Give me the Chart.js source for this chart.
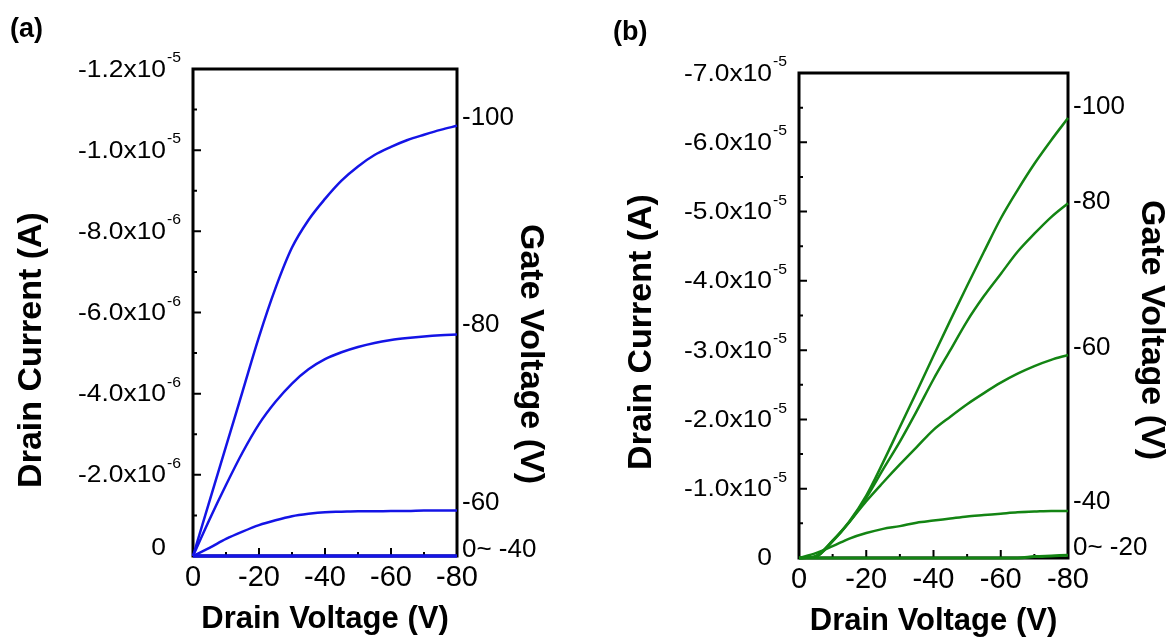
<!DOCTYPE html>
<html>
<head>
<meta charset="utf-8">
<script src="https://cdn.jsdelivr.net/npm/chart.js@4.4.0/dist/chart.umd.min.js"></script>
<style>
  html, body { margin: 0; padding: 0; background: #fff; }
  #wrap { position: relative; width: 1174px; height: 641px; }
  canvas { position: absolute; top: 0; }
  #chartA { left: 0; }
  #chartB { left: 587px; }
</style>
</head>
<body>
<div id="wrap">
  <canvas id="chartA" width="587" height="641"></canvas>
  <canvas id="chartB" width="587" height="641"></canvas>
</div>
<script>
// drain voltage sweep (V)
var drainVoltage = [0, -5, -10, -15, -20, -25, -30, -35, -40, -45, -50, -55, -60, -65, -70, -75, -80];

// (a) drain current (A), one array per gate voltage
var aGate100 = [0, -1.35e-6, -2.7e-6, -4.05e-6, -5.4e-6, -6.6e-6, -7.6e-6, -8.28e-6, -8.8e-6, -9.25e-6, -9.6e-6, -9.88e-6, -10.08e-6, -10.25e-6, -10.38e-6, -10.5e-6, -10.6e-6];
var aGate80 = [0, -0.9e-6, -1.75e-6, -2.55e-6, -3.25e-6, -3.8e-6, -4.25e-6, -4.6e-6, -4.85e-6, -5.02e-6, -5.15e-6, -5.25e-6, -5.32e-6, -5.37e-6, -5.41e-6, -5.44e-6, -5.46e-6];
var aGate60 = [0, -0.2e-6, -0.42e-6, -0.6e-6, -0.76e-6, -0.88e-6, -0.98e-6, -1.04e-6, -1.08e-6, -1.09e-6, -1.1e-6, -1.1e-6, -1.11e-6, -1.11e-6, -1.12e-6, -1.12e-6, -1.12e-6];
var aGate0to40 = [0, 0, 0, 0, 0, 0, 0, 0, 0, 0, 0, 0, 0, 0, 0, 0, 0];

// (b) drain current (A), one array per gate voltage
var bGate100 = [0, -0.03e-5, -0.25e-5, -0.53e-5, -0.9e-5, -1.38e-5, -1.89e-5, -2.4e-5, -2.92e-5, -3.43e-5, -3.93e-5, -4.42e-5, -4.9e-5, -5.31e-5, -5.69e-5, -6.03e-5, -6.35e-5];
var bGate80 = [0, -0.02e-5, -0.24e-5, -0.52e-5, -0.87e-5, -1.28e-5, -1.68e-5, -2.12e-5, -2.58e-5, -3.0e-5, -3.42e-5, -3.78e-5, -4.1e-5, -4.42e-5, -4.68e-5, -4.92e-5, -5.12e-5];
var bGate60 = [0, -0.02e-5, -0.25e-5, -0.52e-5, -0.82e-5, -1.09e-5, -1.35e-5, -1.6e-5, -1.85e-5, -2.04e-5, -2.22e-5, -2.38e-5, -2.53e-5, -2.66e-5, -2.77e-5, -2.86e-5, -2.93e-5];
var bGate40 = [0, -0.07e-5, -0.17e-5, -0.28e-5, -0.36e-5, -0.42e-5, -0.46e-5, -0.51e-5, -0.54e-5, -0.57e-5, -0.6e-5, -0.62e-5, -0.64e-5, -0.66e-5, -0.67e-5, -0.68e-5, -0.68e-5];
var bGate0to20 = [0, 0, 0, 0, 0, 0, 0, 0, 0, 0, 0, 0, 0, 0, -0.02e-5, -0.03e-5, -0.04e-5];

// x axis ticks
var xTicks = [0, -20, -40, -60, -80];
var xTickLabels = ["0", "-20", "-40", "-60", "-80"];
var xMinor = [-10, -30, -50, -70];

// (a) y axis ticks
var aYTicks = [0, -2e-6, -4e-6, -6e-6, -8e-6, -1.0e-5, -1.2e-5];
var aYTickLabels = ["0", "-2.0x10", "-4.0x10", "-6.0x10", "-8.0x10", "-1.0x10", "-1.2x10"];
var aYTickExp = ["", "-6", "-6", "-6", "-6", "-5", "-5"];
var aYMinor = [-1e-6, -3e-6, -5e-6, -7e-6, -9e-6, -1.1e-5];

// (b) y axis ticks
var bYTicks = [0, -1e-5, -2e-5, -3e-5, -4e-5, -5e-5, -6e-5, -7e-5];
var bYTickLabels = ["0", "-1.0x10", "-2.0x10", "-3.0x10", "-4.0x10", "-5.0x10", "-6.0x10", "-7.0x10"];
var bYTickExp = ["", "-5", "-5", "-5", "-5", "-5", "-5", "-5"];
var bYMinor = [-0.5e-5, -1.5e-5, -2.5e-5, -3.5e-5, -4.5e-5, -5.5e-5, -6.5e-5];

// gate voltage labels on the right side
var aGateLabels = ["-100", "-80", "-60", "0~ -40"];
var aGateAt = [-10.8e-6, -5.69e-6, -1.3e-6, -0.15e-6];
var bGateLabels = ["-100", "-80", "-60", "-40", "0~ -20"];
var bGateAt = [-6.51e-5, -5.14e-5, -3.03e-5, -0.81e-5, -0.14e-5];

var FONT = '"Liberation Sans", Arial, sans-serif';

function textAt(ctx, str, x, y, size, weight, align, sx, rot) {
  ctx.save();
  ctx.translate(x, y);
  if (rot) ctx.rotate(rot);
  ctx.scale(sx || 1, 1);
  ctx.font = weight + " " + size + "px " + FONT;
  ctx.textAlign = align;
  ctx.textBaseline = "middle";
  ctx.fillStyle = "#000";
  ctx.fillText(str, 0, 0);
  ctx.restore();
}

function textWidth(ctx, str, size) {
  ctx.save();
  ctx.font = "normal " + size + "px " + FONT;
  var w = ctx.measureText(str).width;
  ctx.restore();
  return w;
}

function pts(ys) {
  return drainVoltage.map(function (v, i) {
    return { x: v, y: ys[i] };
  });
}

function makePanel(p) {
  var W = 587, H = 641;
  var b = p.box;

  var framePlugin = {
    id: "frame",
    beforeDatasetsDraw: function (chart) {
      var a = chart.chartArea, ctx = chart.ctx;
      var xs = chart.scales.x, ys = chart.scales.y;
      ctx.save();
      ctx.strokeStyle = "#000";
      ctx.lineWidth = 3;
      ctx.strokeRect(a.left, a.top, a.right - a.left, a.bottom - a.top);
      ctx.lineWidth = 2;
      ctx.beginPath();
      p.yTicks.forEach(function (v) {
        var y = ys.getPixelForValue(v);
        ctx.moveTo(a.left, y);
        ctx.lineTo(a.left + 8, y);
      });
      p.yMinor.forEach(function (v) {
        var y = ys.getPixelForValue(v);
        ctx.moveTo(a.left, y);
        ctx.lineTo(a.left + 4, y);
      });
      xTicks.forEach(function (v) {
        var x = xs.getPixelForValue(v);
        ctx.moveTo(x, a.bottom);
        ctx.lineTo(x, a.bottom - 8);
      });
      xMinor.forEach(function (v) {
        var x = xs.getPixelForValue(v);
        ctx.moveTo(x, a.bottom);
        ctx.lineTo(x, a.bottom - 4);
      });
      ctx.stroke();
      ctx.restore();
    },
    afterDraw: function (chart) {
      var a = chart.chartArea, ctx = chart.ctx;
      var xs = chart.scales.x, ys = chart.scales.y, ys2 = chart.scales.y2;

      // left tick labels with superscript exponent
      p.yTicks.forEach(function (v, i) {
        var y = ys.getPixelForValue(v);
        if (p.yExp[i] === "") {
          textAt(ctx, p.yLabels[i], a.left - 27, y - p.zeroRaise, 24, "normal", "right", 1.1);
        } else {
          var supRight = a.left - 12;
          var supW = textWidth(ctx, p.yExp[i], 15) * 1.05;
          textAt(ctx, p.yExp[i], supRight, y - 11, 15, "normal", "right", 1.05);
          textAt(ctx, p.yLabels[i], supRight - supW - 1, y + 1, 24, "normal", "right", 1.1);
        }
      });

      // bottom tick labels
      xTicks.forEach(function (v, i) {
        textAt(ctx, xTickLabels[i], xs.getPixelForValue(v), a.bottom + 22, 29, "normal", "center", 1);
      });

      // gate voltage labels
      p.gateAt.forEach(function (v, i) {
        textAt(ctx, p.gateLabels[i], a.right + 5, ys2.getPixelForValue(v), 26, "normal", "left", 1);
      });

      // titles
      textAt(ctx, "Drain Voltage (V)", (a.left + a.right) / 2, a.bottom + 63, 31, "bold", "center", 1);
      textAt(ctx, "Drain Current (A)", p.leftTitle[0], p.leftTitle[1], 34, "bold", "center", 1, -Math.PI / 2);
      textAt(ctx, "Gate Voltage (V)", p.rightTitle[0], p.rightTitle[1], 34, "bold", "center", 1, Math.PI / 2);
      textAt(ctx, p.tag, p.tagPos[0], p.tagPos[1], 27, "bold", "left", 1);
    }
  };

  var datasets = p.series.map(function (s, i) {
    return {
      label: p.gateLabels[i],
      data: pts(s),
      showLine: true,
      borderColor: p.color,
      backgroundColor: p.color,
      borderWidth: p.widths[i],
      pointRadius: 0,
      cubicInterpolationMode: "monotone",
      fill: false,
      clip: false
    };
  });

  return new Chart(document.getElementById(p.id), {
    type: "scatter",
    data: { datasets: datasets },
    options: {
      responsive: false,
      animation: false,
      events: [],
      layout: { padding: { top: b.top, left: 0, right: 0, bottom: 0 } },
      plugins: { legend: { display: false }, tooltip: { enabled: false } },
      scales: {
        x: {
          type: "linear", min: -80, max: 0, reverse: true,
          ticks: { display: false }, grid: { display: false }, border: { display: false },
          afterFit: function (s) { s.height = H - b.bottom; }
        },
        y: {
          type: "linear", position: "left", min: p.yMax, max: 0, reverse: true,
          ticks: { display: false }, grid: { display: false }, border: { display: false },
          afterFit: function (s) { s.width = b.left; }
        },
        y2: {
          type: "linear", position: "right", min: p.yMax, max: 0, reverse: true,
          ticks: { display: false }, grid: { display: false }, border: { display: false },
          afterFit: function (s) { s.width = W - b.right; }
        }
      }
    },
    plugins: [framePlugin]
  });
}

makePanel({
  id: "chartA", tag: "(a)", color: "#1414e6",
  box: { left: 193, top: 69, right: 457, bottom: 556 },
  series: [aGate100, aGate80, aGate60, aGate0to40],
  widths: [2.5, 2.5, 2.5, 3.5],
  yMax: -1.2e-5,
  yTicks: aYTicks, yLabels: aYTickLabels, yExp: aYTickExp, yMinor: aYMinor,
  gateAt: aGateAt, gateLabels: aGateLabels,
  tagPos: [10, 30], leftTitle: [32, 350], rightTitle: [530, 354], zeroRaise: 8
});

makePanel({
  id: "chartB", tag: "(b)", color: "#138413",
  box: { left: 212, top: 73, right: 481, bottom: 558 },
  series: [bGate100, bGate80, bGate60, bGate40, bGate0to20],
  widths: [2.5, 2.5, 2.5, 2.5, 3],
  yMax: -7e-5,
  yTicks: bYTicks, yLabels: bYTickLabels, yExp: bYTickExp, yMinor: bYMinor,
  gateAt: bGateAt, gateLabels: bGateLabels,
  tagPos: [26, 33], leftTitle: [55, 332], rightTitle: [564, 330], zeroRaise: 0
});
</script>
</body>
</html>
